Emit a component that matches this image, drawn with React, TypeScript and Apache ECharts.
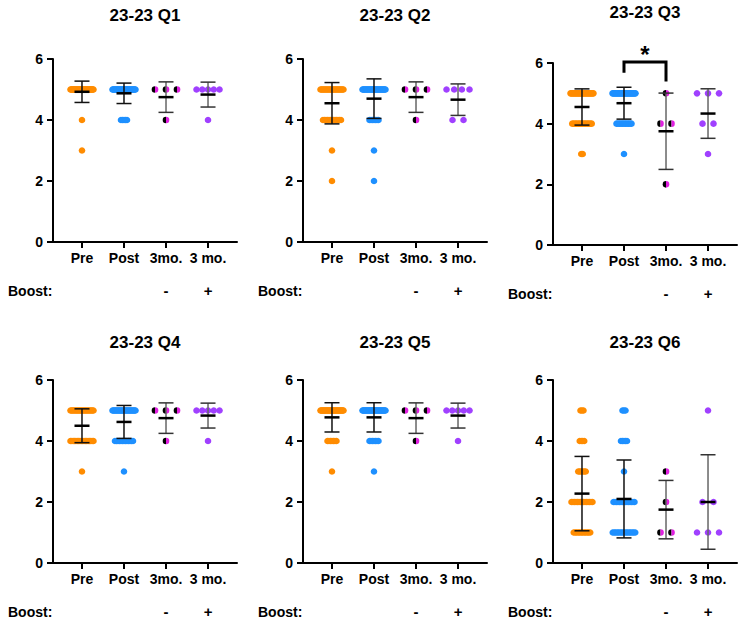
import React, { useEffect, useRef } from "react";
import * as echarts from "echarts";

// ---------- data ----------
const CATEGORIES = ["Pre", "Post", "3mo.", "3 mo."];
const BOOST_SIGNS = ["", "", "-", "+"];
const TITLES = ["23-23 Q1", "23-23 Q2", "23-23 Q3", "23-23 Q4", "23-23 Q5", "23-23 Q6"];
const SCORES = [1, 2, 3, 4, 5];

// number of respondents giving each score 1..5 (one row per question)
const PRE_COUNTS = [
  [0, 0, 1, 1, 38],
  [0, 1, 1, 13, 25],
  [0, 0, 2, 14, 24],
  [0, 0, 1, 18, 21],
  [0, 0, 1, 7, 32],
  [12, 15, 6, 4, 3],
];
const POST_COUNTS = [
  [0, 0, 0, 5, 35],
  [0, 1, 1, 7, 31],
  [0, 0, 1, 11, 28],
  [0, 0, 1, 13, 26],
  [0, 0, 1, 7, 32],
  [16, 15, 1, 5, 3],
];
// individual responses at 3 months
const MO3_NO_BOOST = [
  [5, 5, 5, 4],
  [5, 5, 5, 4],
  [5, 4, 4, 2],
  [5, 5, 5, 4],
  [5, 5, 5, 4],
  [3, 2, 1, 1],
];
const MO3_BOOST = [
  [5, 5, 5, 5, 5, 4],
  [5, 5, 5, 5, 4, 4],
  [5, 5, 5, 4, 4, 3],
  [5, 5, 5, 5, 5, 4],
  [5, 5, 5, 5, 5, 4],
  [5, 2, 2, 1, 1, 1],
];
// significance annotation (Q3: Post vs 3mo.)
const SIG_PANEL = 2;
const SIG_PAIR = [2, 3];
const SIG_LABEL = "*";

// ---------- styling ----------
const FONT = '"Liberation Sans", Arial, Helvetica, sans-serif';
const COLORS = ["#FF8C00", "#1E90FF", "#E020E0", "#A040FF"];
const GRID_LEFT = [53, 303, 553, 53, 303, 553];
const GRID_TOP = [59, 59, 63, 380, 380, 380];
const GRID_H = [183, 183, 182, 183, 183, 183];
const GRID_W = 184;
const TITLE_Y = [15, 15, 12, 342, 342, 342];

function expand(counts: number[]) {
  const out: number[] = [];
  counts.forEach((c, i) => {
    for (let j = 0; j < c; j++) out.push(SCORES[i]);
  });
  return out;
}

function stats(vals: number[]) {
  const n = vals.length;
  const m = vals.reduce((a, b) => a + b, 0) / n;
  const sd = Math.sqrt(vals.reduce((a, b) => a + (b - m) * (b - m), 0) / (n - 1));
  return { m, sd };
}

function buildOption() {
  const grid: any[] = [];
  const xAxis: any[] = [];
  const yAxis: any[] = [];
  const series: any[] = [];
  const graphic: any[] = [];

  for (let p = 0; p < 6; p++) {
    grid.push({ left: GRID_LEFT[p], top: GRID_TOP[p], width: GRID_W, height: GRID_H[p] });
    const axisLineStyle = { color: "#000", width: 2 };
    xAxis.push({
      gridIndex: p,
      type: "value",
      min: 0.31,
      max: 4.69,
      axisLine: { show: true, onZero: false, lineStyle: axisLineStyle },
      axisTick: { show: true, customValues: [1, 2, 3, 4], length: 6, lineStyle: axisLineStyle },
      axisLabel: {
        show: true,
        customValues: [1, 2, 3, 4],
        formatter: (v: number) => CATEGORIES[Math.round(v) - 1],
        color: "#000",
        fontWeight: "bold",
        fontSize: 14,
        fontFamily: FONT,
        margin: 9,
      },
      splitLine: { show: false },
    });
    xAxis.push({
      gridIndex: p,
      type: "value",
      position: "bottom",
      min: 0.31,
      max: 4.69,
      axisLine: { show: false },
      axisTick: { show: false },
      axisLabel: {
        show: true,
        customValues: [3, 4],
        formatter: (v: number) => BOOST_SIGNS[Math.round(v) - 1],
        color: "#000",
        fontWeight: "bold",
        fontSize: 15,
        fontFamily: FONT,
        margin: 41,
      },
      splitLine: { show: false },
    });
    yAxis.push({
      gridIndex: p,
      type: "value",
      min: 0,
      max: 6,
      interval: 2,
      axisLine: { show: true, lineStyle: axisLineStyle },
      axisTick: { show: true, length: 6, lineStyle: axisLineStyle },
      axisLabel: { color: "#000", fontWeight: "bold", fontSize: 14, fontFamily: FONT, margin: 10 },
      splitLine: { show: false },
    });

    const groups = [expand(PRE_COUNTS[p]), expand(POST_COUNTS[p]), MO3_NO_BOOST[p], MO3_BOOST[p]];
    const dotData: number[][] = [];
    const barData: number[][] = [];
    groups.forEach((vals, g) => {
      const byVal: Record<number, number> = {};
      vals.forEach((v) => (byVal[v] = (byVal[v] || 0) + 1));
      Object.keys(byVal).forEach((key) => {
        const v = Number(key);
        const k = byVal[v];
        for (let s = 0; s < k; s++) dotData.push([g + 1, v, s, k, g]);
      });
      const st = stats(vals);
      barData.push([g + 1, st.m, st.sd, g]);
    });

    series.push({
      type: "custom",
      xAxisIndex: p * 2,
      yAxisIndex: p,
      encode: { x: 0, y: 1 },
      data: dotData,
      renderItem: (params: any, api: any) => {
        const c = api.coord([api.value(0), api.value(1)]);
        const slot = api.value(2);
        const k = api.value(3);
        const g = api.value(4);
        const sp = g < 2 ? 1.5 : 11;
        const span = Math.min((k - 1) * sp, 23);
        const step = k > 1 ? span / (k - 1) : 0;
        const x = c[0] - span / 2 + slot * step;
        const y = c[1];
        const r = 3.3;
        if (g === 2) {
          return {
            type: "group",
            children: [
              { type: "sector", shape: { cx: x, cy: y, r, r0: 0, startAngle: Math.PI / 2, endAngle: Math.PI * 1.5, clockwise: true }, style: { fill: "#000" } },
              { type: "sector", shape: { cx: x, cy: y, r, r0: 0, startAngle: -Math.PI / 2, endAngle: Math.PI / 2, clockwise: true }, style: { fill: COLORS[2] } },
            ],
          };
        }
        return { type: "circle", shape: { cx: x, cy: y, r }, style: { fill: COLORS[g] } };
      },
      z: 2,
    });

    series.push({
      type: "custom",
      xAxisIndex: p * 2,
      yAxisIndex: p,
      encode: { x: 0, y: 1 },
      data: barData,
      renderItem: (params: any, api: any) => {
        const cat = api.value(0);
        const m = api.value(1);
        const sd = api.value(2);
        const g = api.value(3);
        const c = api.coord([cat, m]);
        const top = api.coord([cat, m + sd]);
        const bot = api.coord([cat, m - sd]);
        const vColor = g < 2 ? "#111" : "#666";
        const capColor = g < 2 ? "#111" : "#333";
        const hw = 7.5;
        return {
          type: "group",
          children: [
            { type: "line", shape: { x1: c[0], y1: top[1], x2: c[0], y2: bot[1] }, style: { stroke: vColor, lineWidth: 1.5 } },
            { type: "line", shape: { x1: c[0] - hw, y1: top[1], x2: c[0] + hw, y2: top[1] }, style: { stroke: capColor, lineWidth: 1.5 } },
            { type: "line", shape: { x1: c[0] - hw, y1: bot[1], x2: c[0] + hw, y2: bot[1] }, style: { stroke: capColor, lineWidth: 1.5 } },
            { type: "line", shape: { x1: c[0] - hw, y1: c[1], x2: c[0] + hw, y2: c[1] }, style: { stroke: "#000", lineWidth: 2.5 } },
          ],
        };
      },
      z: 3,
    });

    if (p === SIG_PANEL) {
      series.push({
        type: "custom",
        xAxisIndex: p * 2,
        yAxisIndex: p,
        encode: { x: 0, y: 1 },
        data: [[SIG_PAIR[0], SIG_PAIR[1]]],
        renderItem: (params: any, api: any) => {
          const a = api.value(0);
          const b = api.value(1);
          const pA = api.coord([a, 5.68]);
          const pTopA = api.coord([a, 6.03]);
          const pTopB = api.coord([b, 6.03]);
          const pB = api.coord([b, 5.39]);
          const star = api.coord([(a + b) / 2, 6.68]);
          return {
            type: "group",
            children: [
              { type: "polyline", shape: { points: [pA, pTopA, pTopB, pB] }, style: { stroke: "#000", lineWidth: 3, fill: null } },
              { type: "text", style: { x: star[0], y: star[1], text: SIG_LABEL, font: `bold 24px ${FONT}`, fill: "#000", textAlign: "center", textVerticalAlign: "top" } },
            ],
          };
        },
        z: 4,
      });
    }

    const cx = GRID_LEFT[p] + GRID_W / 2;
    graphic.push({
      type: "text",
      x: cx,
      y: TITLE_Y[p],
      style: { text: TITLES[p], font: `bold 17px ${FONT}`, fill: "#000", textAlign: "center", textVerticalAlign: "middle" },
    });
    graphic.push({
      type: "text",
      x: GRID_LEFT[p] - 45,
      y: GRID_TOP[p] + GRID_H[p] + 49,
      style: { text: "Boost:", font: `bold 14px ${FONT}`, fill: "#000", textAlign: "left", textVerticalAlign: "middle" },
    });
  }

  return { animation: false, backgroundColor: "#fff", grid, xAxis, yAxis, series, graphic };
}

export default function App() {
  const ref = useRef<HTMLDivElement>(null);
  useEffect(() => {
    document.body.style.margin = "0";
    const chart = echarts.init(ref.current!, null, { renderer: "svg" });
    chart.setOption(buildOption() as any);
    return () => chart.dispose();
  }, []);
  return <div ref={ref} style={{ width: 750, height: 632 }} />;
}
